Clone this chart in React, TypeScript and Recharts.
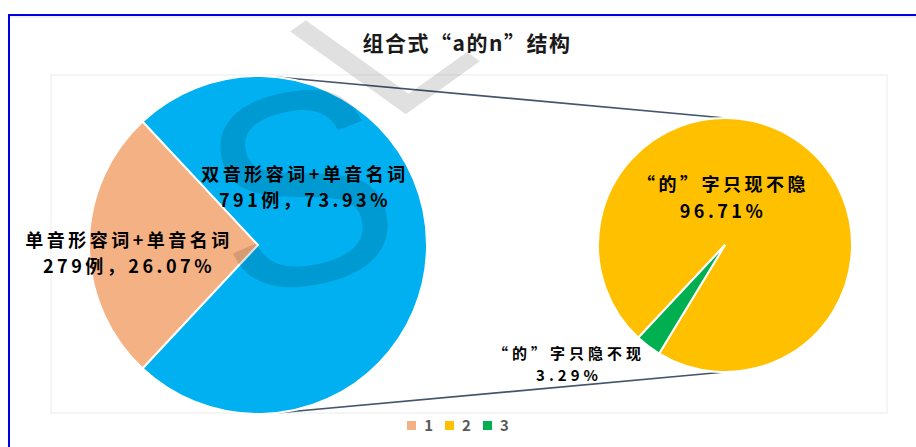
import { PieChart, Pie, Cell, Legend, Customized } from "recharts";

// data
const mainNames = ["单音形容词+单音名词", "双音形容词+单音名词"];
const mainCounts = [279, 791];
const mainShares = [26.07, 73.93];
const subNames = ["“的”字只现不隐", "“的”字只隐不现"];
const subShares = [96.71, 3.29];
const legendLabels = ["1", "2", "3"];

const mainColors = ["#F4B183", "#00B0F0"];
const subColors = ["#FFC000", "#00B050"];
const legendColors = ["#F4B183", "#FFC000", "#00B050"];

const W = 916;
const H = 447;
const CY = 245;
const MAIN = { cx: 258, r: 169 };
const SUB = { cx: 725, r: 127 };

const mainData = mainNames.map((name, i) => ({ name, value: mainShares[i], count: mainCounts[i] }));
const subData = subNames.map((name, i) => ({ name, value: subShares[i] }));

// orange slice centred on the left side, the small green slice starts where it ends
const mainStart = 180 - (360 * mainShares[0]) / 100 / 2;
const subStart = mainStart + (360 * mainShares[0]) / 100 + (360 * subShares[1]) / 100;

const FONT = "'Noto Sans CJK SC', 'Noto Sans', sans-serif";

// label block offsets from each pie centre
const mainLabelPos = [
  { dx: -129, dy: 7, size: 18, gap: 26, ls: 3.5 },
  { dx: 47, dy: -59, size: 18, gap: 26, ls: 3.5 },
];
const subLabelPos = [
  { dx: -2, dy: -49, size: 18, gap: 27, ls: 3.5 },
  { dx: -156, dy: 118, size: 15, gap: 22, ls: 4 },
];

const blockLabel = (lines: string[], x: number, y: number, p: any) => (
  <text
    x={x}
    y={y}
    textAnchor="middle"
    fontFamily={FONT}
    fontWeight="bold"
    fontSize={p.size}
    letterSpacing={p.ls}
    fill="#000"
  >
    <tspan x={x} y={y - p.gap / 2} dominantBaseline="central">
      {lines[0]}
    </tspan>
    <tspan x={x} y={y + p.gap / 2} dominantBaseline="central">
      {lines[1]}
    </tspan>
  </text>
);

const mainLabel = (props: any) => {
  const i = props.index;
  const p = mainLabelPos[i];
  return blockLabel(
    [mainNames[i], `${mainCounts[i]}例，${mainShares[i].toFixed(2)}%`],
    props.cx + p.dx,
    props.cy + p.dy,
    p
  );
};

const subLabel = (props: any) => {
  const i = props.index;
  const p = subLabelPos[i];
  return blockLabel([subNames[i], `${subShares[i].toFixed(2)}%`], props.cx + p.dx, props.cy + p.dy, p);
};

const Overlay = () => {
  const d = SUB.cx - MAIN.cx;
  const s = (MAIN.r - SUB.r) / d;
  const c = Math.sqrt(1 - s * s);
  const x1 = MAIN.cx + MAIN.r * s;
  return (
    <g>
      <line x1={10} y1={17} x2={W} y2={17} stroke="#e4e4e4" strokeWidth={1} />
      <rect x={51} y={75} width={836} height={338} fill="none" stroke="#ebebeb" strokeWidth={1} />
      <line x1={x1} y1={CY - MAIN.r * c} x2={SUB.cx} y2={CY - SUB.r} stroke="#44546A" strokeWidth={1.6} />
      <line x1={x1} y1={CY + MAIN.r * c} x2={SUB.cx} y2={CY + SUB.r} stroke="#44546A" strokeWidth={1.6} />
      <text
        x={467}
        y={42}
        textAnchor="middle"
        dominantBaseline="central"
        fontFamily={FONT}
        fontSize={21}
        letterSpacing={1.5}
        fontWeight="bold"
        fill="#1a1a1a"
      >
        组合式“a的n”结构
      </text>
    </g>
  );
};

const LegendBox = () => (
  <div style={{ display: "flex", justifyContent: "center", alignItems: "center", fontFamily: FONT }}>
    {legendLabels.map((l, i) => (
      <div key={l} style={{ display: "flex", alignItems: "center", marginRight: i < 2 ? 12 : 0 }}>
        <div style={{ width: 9, height: 9, background: legendColors[i], marginRight: 8 }} />
        <span style={{ fontSize: 15, color: "#595959", fontWeight: "bold", lineHeight: "16px" }}>{l}</span>
      </div>
    ))}
  </div>
);

// faint "SL" watermark lying over the whole picture
const Watermark = () => (
  <svg width={W} height={H} style={{ position: "absolute", left: 0, top: 0, pointerEvents: "none" }}>
    <defs>
      <clipPath id="frameClip">
        <rect x={10} y={16} width={W} height={H} />
      </clipPath>
    </defs>
    <g clipPath="url(#frameClip)" fill="#000" fillOpacity={0.12} fontFamily="'Liberation Sans', sans-serif">
      <text
        fontSize={275}
        textAnchor="middle"
        dominantBaseline="central"
        transform="translate(300 188) rotate(-12)"
      >
        S
      </text>
      <text fontSize={170} transform="translate(392 124) scale(1.4 1) rotate(-45)">
        L
      </text>
    </g>
  </svg>
);

export default function App() {
  return (
    <div style={{ position: "absolute", left: 0, top: 0, width: W, height: H, background: "#fff", overflow: "hidden" }}>
      <div
        style={{
          position: "absolute",
          left: 8,
          top: 14,
          width: W,
          height: H,
          borderTop: "2px solid #0000E0",
          borderLeft: "2px solid #0000E0",
        }}
      />
      <div style={{ position: "absolute", left: 0, top: 0 }}>
        <PieChart width={W} height={H} margin={{ top: 0, right: 0, bottom: 0, left: 0 }}>
          <Customized component={Overlay} />
          <Pie
            data={mainData}
            dataKey="value"
            nameKey="name"
            cx={MAIN.cx}
            cy={CY}
            outerRadius={MAIN.r}
            startAngle={mainStart}
            endAngle={mainStart + 360}
            stroke="#fff"
            strokeWidth={2}
            label={mainLabel}
            labelLine={false}
            isAnimationActive={false}
          >
            {mainData.map((e, i) => (
              <Cell key={e.name} fill={mainColors[i]} />
            ))}
          </Pie>
          <Pie
            data={subData}
            dataKey="value"
            nameKey="name"
            cx={SUB.cx}
            cy={CY}
            outerRadius={SUB.r}
            startAngle={subStart}
            endAngle={subStart + 360}
            stroke="#fff"
            strokeWidth={2}
            label={subLabel}
            labelLine={false}
            isAnimationActive={false}
          >
            {subData.map((e, i) => (
              <Cell key={e.name} fill={subColors[i]} />
            ))}
          </Pie>
          <Legend
            content={LegendBox}
            wrapperStyle={{ position: "absolute", left: 0, top: 417, width: W, height: 18 }}
          />
        </PieChart>
      </div>
      <Watermark />
    </div>
  );
}
